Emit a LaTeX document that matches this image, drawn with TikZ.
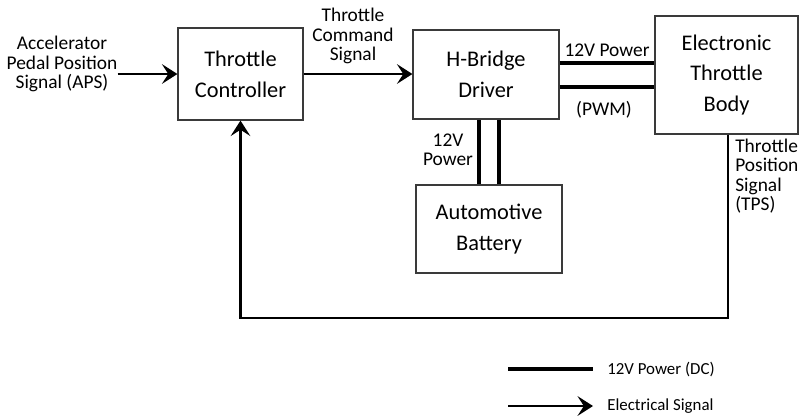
\documentclass[tikz,border=0pt]{standalone}
\usepackage{fontspec}
\setmainfont{Carlito}
\usepackage{tikz}
\usetikzlibrary{arrows.meta,calc,positioning}
\definecolor{edge}{HTML}{3A3A3A}

\begin{document}
\begin{tikzpicture}[x=0.025cm,y=-0.025cm,
    blk/.style={draw=edge,line width=.8pt,align=center,inner sep=2pt,font=\fontsize{15.9}{22}\selectfont},
    lbl/.style={align=center,inner sep=0pt,font=\fontsize{13.8}{13.6}\selectfont},
    sig/.style={-{Stealth[length=11pt,width=14pt,inset=4.5pt]},line width=2pt},
    pwr/.style={line width=3.5pt}]
  \useasboundingbox (0,0) rectangle (800,417);
  % blocks
  \node[blk,minimum width=3.125cm,minimum height=2.3cm] (ctrl) at (240.5,74) {Throttle\\Controller};
  \node[blk,minimum width=3.65cm,minimum height=2.225cm] (hb) at (486,74.5) {H-Bridge\\Driver};
  \node[blk,minimum width=3.575cm,minimum height=2.95cm] (etb) at (726.5,75) {Electronic\\Throttle\\Body};
  \node[blk,minimum width=3.65cm,minimum height=2.2cm] (bat) at (489,229) {Automotive\\Battery};
  % labels
  \node[lbl] (aps) at (62,64) {Accelerator\\Pedal Position\\Signal (APS)};
  \node[lbl] (cmd) at (353,36) {Throttle\\Command\\Signal};
  \node[lbl] (pwrtop) at (607,50) {12V Power};
  \node[lbl] (pwm) at (604,110) {(PWM)};
  \node[lbl] (pwrbat) at (448,150) {12V\\Power};
  \node[lbl,anchor=north west,align=left] (tps) at (735,139) {Throttle\\Position\\Signal\\(TPS)};
  % signal paths
  \draw[sig] (aps.east |- ctrl.west) -- (ctrl.west);
  \draw[sig] (ctrl.east) -- (hb.west |- ctrl.east);
  \coordinate (fb) at (0,318);
  \draw[sig,line width=1.8pt] ($(etb.south)+(1.5,0)$) -- ($(etb.south |- fb)+(1.5,0)$) -| (ctrl.south);
  % power lines
  \draw[pwr] ($(hb.east)+(0,-11.5)$) -- ($(etb.west |- hb.east)+(0,-11.5)$);
  \draw[pwr] ($(hb.east)+(0,12.5)$) -- ($(etb.west |- hb.east)+(0,12.5)$);
  \draw[pwr,line width=3pt] ($(bat.north)+(-10,0)$) -- ($(bat.north |- hb.south)+(-10,0)$);
  \draw[pwr,line width=3pt] ($(bat.north)+(10,0)$) -- ($(bat.north |- hb.south)+(10,0)$);
  % legend
  \coordinate (leg1) at (508,369);
  \coordinate (leg2) at (508,406);
  \node[anchor=west,inner sep=0pt,font=\fontsize{12}{13}\selectfont] (legpwr) at (607,369) {12V Power (DC)};
  \node[anchor=west,inner sep=0pt,font=\fontsize{12}{13}\selectfont] (legsig) at (607,406) {Electrical Signal};
  \draw[pwr] (leg1) -- ($(legpwr.west)+(-14,0)$);
  \draw[sig] (leg2) -- ($(legsig.west)+(-14,0)$);
\end{tikzpicture}
\end{document}
